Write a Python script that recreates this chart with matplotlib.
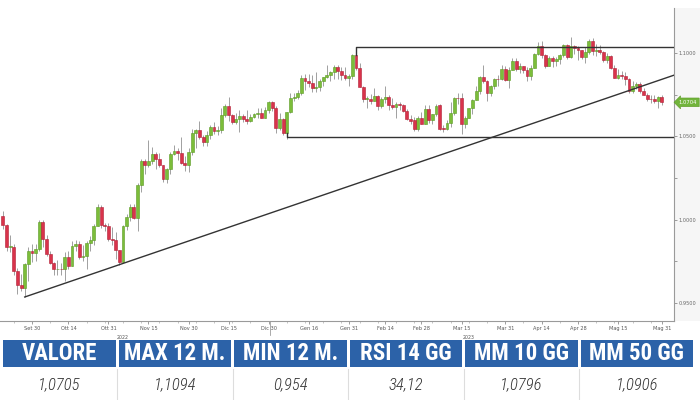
import numpy as np
import pandas as pd
import matplotlib
matplotlib.use('Agg')
import matplotlib.pyplot as plt
from matplotlib.patches import Rectangle

# EUR/USD daily candles, 20 Sep 2022 - 31 May 2023
dates = pd.bdate_range('2022-09-20', '2023-05-31')
first_open = 1.0025

closes = [
    # Sep
    0.9970, 0.9837, 0.9838, 0.9690, 0.9606, 0.9592, 0.9736, 0.9815, 0.9802,
    # Oct
    0.9825, 0.9987, 0.9883, 0.9792, 0.9742, 0.9703, 0.9705, 0.9703, 0.9778, 0.9722, 0.9840,
    0.9857, 0.9774, 0.9781, 0.9860, 0.9877, 0.9965, 1.0078, 0.9966, 0.9965, 0.9882,
    # Nov
    0.9877, 0.9819, 0.9749, 0.9960, 1.0018, 1.0074, 1.0013, 1.0208, 1.0355, 1.0327, 1.0353,
    1.0395, 1.0364, 1.0326, 1.0242, 1.0305, 1.0397, 1.0412, 1.0398, 1.0338, 1.0331, 1.0405,
    # Dec
    1.0522, 1.0536, 1.0494, 1.0468, 1.0508, 1.0555, 1.0534, 1.0536, 1.0630, 1.0680, 1.0627,
    1.0585, 1.0606, 1.0623, 1.0605, 1.0595, 1.0616, 1.0636, 1.0640, 1.0612, 1.0659, 1.0705,
    # Jan
    1.0670, 1.0550, 1.0605, 1.0522, 1.0645, 1.0731, 1.0736, 1.0760, 1.0850, 1.0830, 1.0820,
    1.0790, 1.0795, 1.0830, 1.0855, 1.0870, 1.0885, 1.0915, 1.0890, 1.0870, 1.0850, 1.0863,
    # Feb
    1.0990, 1.0910, 1.0795, 1.0725, 1.0727, 1.0713, 1.0740, 1.0680, 1.0724, 1.0739,
    1.0688, 1.0675, 1.0694, 1.0688, 1.0650, 1.0604, 1.0595, 1.0545, 1.0610, 1.0575,
    # Mar
    1.0667, 1.0597, 1.0635, 1.0685, 1.0547, 1.0545, 1.0582, 1.0640, 1.0731, 1.0730, 1.0577, 1.0610,
    1.0670, 1.0717, 1.0771, 1.0858, 1.0830, 1.0760, 1.0800, 1.0845, 1.0843, 1.0905, 1.0840,
    # Apr
    1.0900, 1.0955, 1.0905, 1.0920, 1.0900, 1.0860, 1.0913, 1.0993, 1.1045, 1.0990,
    1.0925, 1.0970, 1.0955, 1.0965, 1.0990, 1.1050, 1.0975, 1.1040, 1.1030, 1.1020,
    # May
    1.0975, 1.1005, 1.1070, 1.1015, 1.1020, 1.1005, 1.0960, 1.0982, 1.0913, 1.0850, 1.0870, 1.0865,
    1.0845, 1.0770, 1.0805, 1.0815, 1.0772, 1.0750, 1.0725, 1.0723, 1.0710, 1.0735, 1.0704,
]

highs = [
    1.0051, 0.9977, 0.9908, 0.9853, 0.9711, 0.9672, 0.9740, 0.9838, 0.9854,
    0.9854, 0.9999, 0.9999, 0.9907, 0.9810, 0.9749, 0.9757, 0.9741, 0.9807, 0.9810, 0.9874,
    0.9876, 0.9875, 0.9848, 0.9870, 0.9903, 0.9976, 1.0094, 1.0089, 0.9980, 0.9979,
    0.9954, 0.9925, 0.9821, 0.9966, 1.0032, 1.0096, 1.0094, 1.0222, 1.0364, 1.0363, 1.0481,
    1.0436, 1.0405, 1.0399, 1.0327, 1.0312, 1.0404, 1.0449, 1.0432, 1.0497, 1.0382, 1.0429,
    1.0545, 1.0545, 1.0595, 1.0507, 1.0530, 1.0567, 1.0588, 1.0560, 1.0673, 1.0694, 1.0736,
    1.0633, 1.0640, 1.0658, 1.0633, 1.0661, 1.0637, 1.0640, 1.0672, 1.0672, 1.0674, 1.0714,
    1.0713, 1.0683, 1.0638, 1.0610, 1.0648, 1.0760, 1.0760, 1.0777, 1.0867, 1.0874, 1.0874,
    1.0866, 1.0887, 1.0845, 1.0858, 1.0927, 1.0892, 1.0928, 1.0929, 1.0914, 1.0914, 1.0873,
    1.0996, 1.1033, 1.0938, 1.0803, 1.0745, 1.0757, 1.0790, 1.0751, 1.0734, 1.0804,
    1.0750, 1.0733, 1.0708, 1.0705, 1.0697, 1.0665, 1.0627, 1.0614, 1.0621, 1.0645,
    1.0691, 1.0691, 1.0636, 1.0694, 1.0694, 1.0567, 1.0597, 1.0706, 1.0736, 1.0759, 1.0760, 1.0622,
    1.0672, 1.0727, 1.0802, 1.0864, 1.0930, 1.0837, 1.0806, 1.0852, 1.0870, 1.0926, 1.0925,
    1.0918, 1.0973, 1.0970, 1.0942, 1.0925, 1.0915, 1.0927, 1.0998, 1.1068, 1.1075,
    1.0996, 1.0982, 1.0982, 1.0974, 1.0993, 1.1054, 1.1052, 1.1095, 1.1048, 1.1040,
    1.1018, 1.1034, 1.1086, 1.1092, 1.1054, 1.1050, 1.1010, 1.1000, 1.0990, 1.0930, 1.0904, 1.0895,
    1.0885, 1.0850, 1.0830, 1.0826, 1.0828, 1.0793, 1.0760, 1.0746, 1.0747, 1.0745, 1.0746,
]

lows = [
    0.9945, 0.9812, 0.9806, 0.9670, 0.9553, 0.9570, 0.9536, 0.9635, 0.9749,
    0.9752, 0.9815, 0.9836, 0.9784, 0.9737, 0.9670, 0.9668, 0.9667, 0.9632, 0.9707, 0.9722,
    0.9812, 0.9767, 0.9755, 0.9705, 0.9810, 0.9848, 0.9963, 0.9953, 0.9933, 0.9871,
    0.9851, 0.9767, 0.9730, 0.9746, 0.9936, 0.9995, 1.0006, 0.9935, 1.0166, 1.0272, 1.0318,
    1.0335, 1.0305, 1.0316, 1.0225, 1.0223, 1.0276, 1.0386, 1.0356, 1.0333, 1.0290, 1.0289,
    1.0391, 1.0429, 1.0484, 1.0443, 1.0443, 1.0487, 1.0514, 1.0510, 1.0520, 1.0614, 1.0594,
    1.0572, 1.0577, 1.0525, 1.0586, 1.0573, 1.0589, 1.0610, 1.0612, 1.0611, 1.0611, 1.0642,
    1.0652, 1.0520, 1.0540, 1.0510, 1.0483, 1.0640, 1.0712, 1.0723, 1.0750, 1.0780, 1.0797,
    1.0768, 1.0766, 1.0770, 1.0805, 1.0851, 1.0834, 1.0844, 1.0844, 1.0836, 1.0836, 1.0802,
    1.0842, 1.0900, 1.0795, 1.0706, 1.0669, 1.0696, 1.0713, 1.0658, 1.0670, 1.0703,
    1.0660, 1.0663, 1.0613, 1.0659, 1.0645, 1.0598, 1.0577, 1.0533, 1.0531, 1.0575,
    1.0577, 1.0581, 1.0577, 1.0622, 1.0536, 1.0524, 1.0537, 1.0554, 1.0630, 1.0693, 1.0516, 1.0551,
    1.0609, 1.0634, 1.0717, 1.0752, 1.0819, 1.0714, 1.0743, 1.0787, 1.0804, 1.0838, 1.0830,
    1.0788, 1.0897, 1.0890, 1.0880, 1.0880, 1.0832, 1.0837, 1.0910, 1.0990, 1.0969,
    1.0910, 1.0925, 1.0916, 1.0920, 1.0936, 1.0975, 1.0964, 1.0972, 1.0995, 1.0960,
    1.0965, 1.0941, 1.0995, 1.0990, 1.0980, 1.0996, 1.0946, 1.0943, 1.0905, 1.0848, 1.0845, 1.0843,
    1.0808, 1.0760, 1.0760, 1.0786, 1.0762, 1.0747, 1.0710, 1.0702, 1.0703, 1.0673, 1.0690,
]

# x-axis labels
tick_dates = ['2022-09-30', '2022-10-14', '2022-10-31', '2022-11-15', '2022-11-30',
              '2022-12-15', '2022-12-30', '2023-01-16', '2023-01-31', '2023-02-14',
              '2023-02-28', '2023-03-15', '2023-03-31', '2023-04-14', '2023-04-28',
              '2023-05-15', '2023-05-31']
tick_labels = ['Set 30', 'Ott 14', 'Ott 31', 'Nov 15', 'Nov 30', 'Dic 15', 'Dic 30',
               'Gen 16', 'Gen 31', 'Feb 14', 'Feb 28', 'Mar 15', 'Mar 31', 'Apr 14',
               'Apr 28', 'Mag 15', 'Mag 31']
year_labels = ['2022', '2023']
year_label_dates = ['2022-11-04', '2023-03-17']

# drawn levels
trend_dates = ['2022-09-28', '2022-11-03']
trend_prices = [0.9536, 0.9730]
range_top, range_top_from = 1.1034, '2023-02-02'
range_bottom, range_bottom_from = 1.0495, '2023-01-06'
last_price = '1.0704'

# table
headers = ['VALORE', 'MAX 12 M.', 'MIN 12 M.', 'RSI 14 GG', 'MM 10 GG', 'MM 50 GG']
values = ['1,0705', '1,1094', '0,954', '34,12', '1,0796', '1,0906']

closes = np.array(closes)
opens = np.concatenate([[first_open], closes[:-1]])
highs = np.maximum(np.array(highs), np.maximum(opens, closes))
lows = np.minimum(np.array(lows), np.minimum(opens, closes))
idx = np.arange(len(dates))


def pos(d):
    return dates.get_loc(pd.Timestamp(d))


W, H = 700, 400
fig = plt.figure(figsize=(7, 4), dpi=100)
fig.patch.set_facecolor('white')

# faint strip behind the price scale
fig.patches.append(Rectangle((674 / W, 1 - 321 / H), 26 / W, 313 / H, transform=fig.transFigure,
                             facecolor='#f6f6f6', edgecolor='none', zorder=-1))

ax = fig.add_axes([0, 1 - 321 / H, 674 / W, 313 / H])
ax.set_zorder(2)
ax.set_facecolor('white')

up = closes >= opens
wick_c = '#a0a0a0'
ax.vlines(idx, lows, highs, color=wick_c, lw=0.7, zorder=2)
body = np.maximum(np.abs(closes - opens), 0.0003)
bottom = np.minimum(opens, closes)
ax.bar(idx[up], body[up], bottom=bottom[up], width=0.8, color='#7cbd3a',
       edgecolor='#5a9a22', linewidth=0.4, zorder=3)
ax.bar(idx[~up], body[~up], bottom=bottom[~up], width=0.8, color='#d9334b',
       edgecolor='#b01f36', linewidth=0.4, zorder=3)

x_left = 8 - 32 / 3.64
x_right = 8 + 642 / 3.64
ax.set_xlim(x_left, x_right)
ax.set_ylim(1.1 - 268 * 0.0006, 1.1 + 45 * 0.0006)

# trend line, extended to the right edge
t0, t1 = pos(trend_dates[0]), pos(trend_dates[1])
slope = (trend_prices[1] - trend_prices[0]) / (t1 - t0)
ax.plot([t0, x_right], [trend_prices[0], trend_prices[0] + slope * (x_right - t0)],
        color='#333333', lw=1.0, zorder=4)

# range box
p = pos(range_top_from)
ax.plot([p, p, x_right], [opens[p], range_top, range_top], color='#333333', lw=1.0, zorder=4)
p = pos(range_bottom_from)
ax.plot([p, p, x_right], [opens[p], range_bottom, range_bottom], color='#333333', lw=1.0, zorder=4)

# axes styling
for s in ['top', 'left']:
    ax.spines[s].set_visible(False)
ax.spines['right'].set_color('#9a9a9a')
ax.spines['bottom'].set_color('#9a9a9a')
ax.spines['right'].set_linewidth(0.8)
ax.spines['bottom'].set_linewidth(0.8)

ax.yaxis.tick_right()
ax.set_yticks([0.95, 1.0, 1.05, 1.1])
ax.set_yticklabels(['0.9500', '1.0000', '1.0500', '1.1000'])
ax.set_yticks([0.975, 1.025, 1.075], minor=True)
ax.tick_params(axis='y', which='both', labelsize=3.6, labelcolor='#666666', color='#777777',
               length=2, width=0.5, pad=1)

ax.set_xticks([pos(d) for d in tick_dates])
ax.set_xticklabels(tick_labels)
ax.set_xticks(np.arange(3, len(dates), 5), minor=True)
ax.tick_params(axis='x', which='major', labelsize=3.6, labelcolor='#555555', color='#777777',
               length=2, width=0.5, pad=1.5)
ax.tick_params(axis='x', which='minor', color='#999999', length=1.2, width=0.4)

xt = ax.get_xaxis_transform()
for lab, d in zip(year_labels, year_label_dates):
    ax.text(pos(d), -0.045, lab, transform=xt, fontsize=3.4, color='#555555',
            ha='center', va='top')
yb = pos('2022-12-30') + 0.5
ax.plot([yb, yb], [0, -0.045], transform=xt, color='#888888', lw=0.5, clip_on=False)

ax.annotate(last_price, xy=(1.0, float(last_price)), xycoords=('axes fraction', 'data'),
            xytext=(3.5, 0), textcoords='offset points', ha='left', va='center',
            fontsize=3.8, color='white', annotation_clip=False,
            bbox=dict(boxstyle='larrow,pad=0.35', fc='#72b43c', ec='#5a9a22', lw=0.4))

# indicator table
tab = fig.add_axes([0, 0, 1, 60 / H])
tab.set_xlim(0, W)
tab.set_ylim(0, 60)
tab.axis('off')

head_font = ['Roboto Condensed', 'Roboto', 'DejaVu Sans']
cell_w, gap, x0 = 112.5, 3.0, 3.0
for k, (h, v) in enumerate(zip(headers, values)):
    left = x0 + k * (cell_w + gap)
    tab.add_patch(Rectangle((left, 33), cell_w, 27, facecolor='#2c62a8', edgecolor='none'))
    tab.text(left + cell_w / 2, 46.5, h, ha='center', va='center', color='white',
             fontsize=16.5, fontweight='heavy', family=head_font)
    tab.text(left + cell_w / 2, 15, v, ha='center', va='center', color='#333333',
             fontsize=12, fontstyle='italic', fontweight='light', family=head_font)
    if k > 0:
        tab.plot([left - gap / 2] * 2, [0, 31], color='#dddddd', lw=0.8)

fig.savefig('out.png', dpi=100, facecolor='white')
